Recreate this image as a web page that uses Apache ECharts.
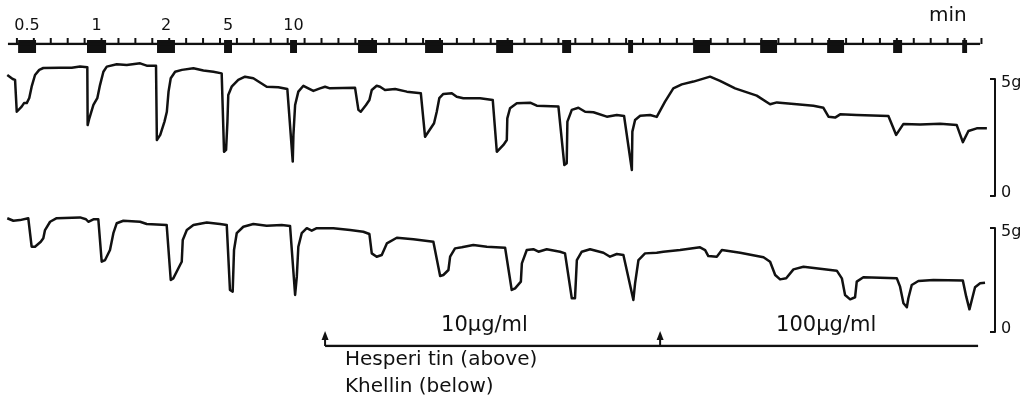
<!DOCTYPE html>
<html>
<head>
<meta charset="utf-8">
<title>Hesperitin / Khellin</title>
<script src="https://cdn.jsdelivr.net/npm/echarts@6/dist/echarts.min.js"></script>
<style>
html, body { margin: 0; padding: 0; background: #fff; }
#main { width: 1034px; height: 412px; }
</style>
</head>
<body>
<div id="main"></div>
<script>
// stimulation frequency written over the first five marks
var freqLabels = ['0.5', '1', '2', '5', '10'];
// stimulus marks on the time line (min)
var stimStart = [0.07, 4.14, 8.28, 12.24, 16.14, 20.16, 24.12, 28.32, 32.22, 36.12, 39.96, 43.92, 47.88, 51.78, 55.86];
var stimEnd   = [1.13, 5.27, 9.34, 12.71, 16.55, 21.28, 25.18, 29.32, 32.75, 36.41, 40.96, 44.92, 48.88, 52.31, 56.15];
// minute ticks of the time line
var minuteTicks = [0, 1, 2, 3, 4, 5, 6, 7, 8, 9, 10, 11, 12, 13, 14, 15, 16, 17, 18, 19,
  20, 21, 22, 23, 24, 25, 26, 27, 28, 29, 30, 31, 32, 33, 34, 35, 36, 37, 38, 39,
  40, 41, 42, 43, 44, 45, 46, 47, 48, 49, 50, 51, 52, 53, 54, 55, 56, 57];
var timeLine = [-0.53, 56.92];
// drug added (min), end of the bar, concentrations
var drugAdded = [18.21, 38.01];
var drugEnd = 56.8;
var drugConc = ['10µg/ml', '100µg/ml'];
var drugNames = ['Hesperi tin (above)', 'Khellin (below)'];
// tension scale (g)
var scaleMax = 5;

// upper trace: [min, g]
var hesperitin = [[-0.57,5.17],[-0.25,5.00],[-0.11,4.96],[-0.01,3.60],[0.08,3.55],[0.28,3.82],[0.42,3.97],[0.58,3.97],[0.73,4.19],[0.87,4.67],[1.07,5.17],[1.32,5.39],[1.56,5.47],[2.55,5.48],[3.24,5.48],[3.73,5.53],[4.16,5.50],
  [4.18,3.03],[4.28,3.32],[4.52,3.89],[4.75,4.18],[4.91,4.74],[5.11,5.31],[5.31,5.53],[5.90,5.63],[6.49,5.60],[7.28,5.67],[7.67,5.57],[8.22,5.57],
  [8.27,2.39],[8.47,2.61],[8.72,3.18],[8.86,3.60],[8.96,4.46],[9.09,5.03],[9.35,5.31],[9.75,5.39],[10.43,5.46],[11.02,5.36],[11.61,5.31],[12.10,5.24],
  [12.24,1.89],[12.36,1.97],[12.44,3.18],[12.49,4.32],[12.69,4.67],[13.08,4.96],[13.48,5.10],[13.97,5.03],[14.76,4.67],[15.45,4.65],[15.98,4.57],
  [16.30,1.47],[16.34,2.61],[16.44,3.89],[16.63,4.46],[16.93,4.71],[17.22,4.60],[17.52,4.49],[17.91,4.60],[18.21,4.67],[18.50,4.60],[19.98,4.63],
  [20.18,3.68],[20.32,3.60],[20.63,3.89],[20.83,4.10],[20.97,4.53],[21.26,4.71],[21.46,4.67],[21.75,4.53],[22.35,4.57],[23.04,4.46],[23.87,4.39],
  [24.12,2.53],[24.22,2.61],[24.65,3.11],[24.81,3.60],[24.96,4.18],[25.20,4.36],[25.70,4.39],[25.99,4.24],[26.38,4.18],[27.37,4.18],[28.12,4.10],
  [28.36,1.89],[28.45,1.89],[28.75,2.18],[28.95,2.39],[28.98,3.32],[29.14,3.75],[29.54,3.96],[30.33,3.99],[30.72,3.86],[32.00,3.82],
  [32.35,1.32],[32.49,1.40],[32.53,3.18],[32.79,3.68],[33.18,3.77],[33.58,3.60],[34.07,3.58],[34.86,3.39],[35.45,3.46],[35.88,3.42],
  [36.34,1.11],[36.37,2.75],[36.53,3.25],[36.83,3.43],[37.42,3.46],[37.81,3.38],[38.30,4.03],[38.79,4.60],[39.29,4.77],[39.98,4.89],[40.96,5.10],
  [41.55,4.92],[42.44,4.60],[43.72,4.29],[44.51,3.92],[44.91,4.00],[46.09,3.92],[47.07,3.86],[47.66,3.77],[47.96,3.39],[48.35,3.35],[48.65,3.49],
  [49.63,3.46],[51.50,3.42],[51.96,2.61],[52.39,3.08],[53.37,3.06],[54.56,3.09],[55.54,3.03],[55.90,2.30],[56.23,2.78],[56.72,2.89],[57.32,2.89]];

// lower trace: [min, g]
var khellin = [[-0.57,5.47],[-0.21,5.35],[0.18,5.38],[0.67,5.47],[0.87,4.10],[1.07,4.10],[1.41,4.34],[1.56,4.51],[1.66,4.90],[1.96,5.30],[2.35,5.47],[3.73,5.51],[4.08,5.42],[4.22,5.30],[4.52,5.42],[4.81,5.42],
  [5.01,3.38],[5.21,3.46],[5.50,3.94],[5.70,4.75],[5.90,5.23],[6.29,5.35],[7.28,5.30],[7.67,5.19],[8.85,5.14],
  [9.09,2.50],[9.24,2.58],[9.64,3.22],[9.74,3.38],[9.80,4.42],[10.04,4.90],[10.43,5.14],[11.22,5.26],[12.00,5.19],[12.40,5.14],
  [12.59,2.02],[12.75,1.94],[12.83,3.94],[12.99,4.75],[13.38,5.06],[13.97,5.19],[14.76,5.11],[15.65,5.14],[16.14,5.10],
  [16.44,1.78],[16.54,2.66],[16.63,4.10],[16.83,4.75],[17.13,4.99],[17.42,4.87],[17.72,4.99],[18.70,4.99],[19.69,4.90],[20.47,4.82],[20.83,4.71],
  [20.97,3.78],[21.26,3.62],[21.56,3.70],[21.86,4.26],[22.45,4.53],[23.43,4.46],[24.61,4.34],
  [25.01,2.69],[25.20,2.74],[25.50,2.98],[25.60,3.62],[25.89,4.02],[26.29,4.07],[26.97,4.18],[27.77,4.10],[28.85,4.05],
  [29.24,2.02],[29.44,2.10],[29.78,2.42],[29.84,3.30],[30.13,3.94],[30.52,3.98],[30.82,3.86],[31.31,3.98],[32.10,3.86],[32.39,3.78],
  [32.79,1.62],[32.98,1.62],[33.09,3.46],[33.38,3.86],[33.87,3.98],[34.66,3.81],[35.05,3.62],[35.45,3.75],[35.84,3.70],
  [36.43,1.54],[36.53,2.34],[36.73,3.46],[37.12,3.78],[37.81,3.81],[38.20,3.86],[39.19,3.94],[40.37,4.07],[40.67,3.94],[40.86,3.65],[41.36,3.62],[41.66,3.94],[42.74,3.81],
  [44.12,3.59],[44.51,3.38],[44.81,2.74],[45.10,2.53],[45.46,2.58],[45.89,3.01],[46.48,3.14],[48.45,2.95],
  [48.75,2.58],[48.94,1.78],[49.24,1.57],[49.53,1.67],[49.63,2.42],[50.02,2.63],[52.00,2.58],
  [52.19,2.18],[52.39,1.38],[52.59,1.19],[52.68,1.62],[52.88,2.26],[53.27,2.45],[54.16,2.50],[55.90,2.47],
  [56.10,1.70],[56.29,1.09],[56.43,1.54],[56.62,2.15],[56.92,2.34],[57.21,2.37]];

var FONT = '"DejaVu Sans", sans-serif';
var INK = '#111';

var myChart = echarts.init(document.getElementById('main'));

function timeAxis(i) {
  return { type: 'value', gridIndex: i, min: -1, max: 57.8, show: false };
}
function hiddenY(i) {
  return { type: 'value', gridIndex: i, min: 0, max: 1, show: false };
}
function scaleAxis(i) {
  return {
    type: 'value', gridIndex: i, min: 0, max: scaleMax, interval: scaleMax,
    position: 'right',
    axisLine: { show: true, onZero: false, lineStyle: { color: INK, width: 2 } },
    axisTick: { show: true, inside: true, length: 5, lineStyle: { color: INK, width: 2 } },
    splitLine: { show: false },
    axisLabel: {
      margin: 6,
      formatter: function (v) { return v === scaleMax ? '{t|' + v + 'g}' : '{b|' + v + '}'; },
      rich: {
        t: { fontFamily: FONT, fontSize: 16, color: INK, padding: [8, 0, 0, 0] },
        b: { fontFamily: FONT, fontSize: 16, color: INK, padding: [0, 0, 6, 0] }
      }
    }
  };
}

var options = {
  backgroundColor: '#fff',
  animation: false,
  grid: [
    { left: 0, right: 39, top: 30, height: 14 },   // time line
    { left: 0, right: 39, top: 79, height: 117 },  // hesperitin
    { left: 0, right: 39, top: 228, height: 104 }, // khellin
    { left: 0, right: 39, top: 300, height: 46 }   // drug bar
  ],
  xAxis: [timeAxis(0), timeAxis(1), timeAxis(2), timeAxis(3)],
  yAxis: [hiddenY(0), scaleAxis(1), scaleAxis(2), hiddenY(3)],
  graphic: [
    { type: 'text', x: 929, y: 16, style: { text: 'min', font: '20px ' + FONT, fill: INK, textVerticalAlign: 'middle' } },
    { type: 'text', x: 345, y: 360, style: { text: drugNames[0], font: '20px ' + FONT, fill: INK, textVerticalAlign: 'middle' } },
    { type: 'text', x: 345, y: 387, style: { text: drugNames[1], font: '20px ' + FONT, fill: INK, textVerticalAlign: 'middle' } }
  ],
  series: [
    {
      type: 'line', xAxisIndex: 0, yAxisIndex: 0, symbol: 'none', silent: true,
      data: [[timeLine[0], 0], [timeLine[1], 0]],
      lineStyle: { color: INK, width: 2.5 }
    },
    {
      // minute ticks
      type: 'custom', xAxisIndex: 0, yAxisIndex: 0, silent: true,
      data: minuteTicks.map(function (m) { return [m, 0]; }),
      renderItem: function (params, api) {
        var p = api.coord([api.value(0), 0]);
        return { type: 'line', shape: { x1: p[0], y1: p[1], x2: p[0], y2: p[1] - 6 }, style: { stroke: INK, lineWidth: 2 } };
      }
    },
    {
      // stimulus marks
      type: 'custom', xAxisIndex: 0, yAxisIndex: 0, silent: true,
      data: stimStart.map(function (s, i) { return [s, stimEnd[i]]; }),
      encode: { x: [0, 1] },
      renderItem: function (params, api) {
        var a = api.coord([api.value(0), 0]);
        var b = api.coord([api.value(1), 0]);
        var kids = [{ type: 'rect', shape: { x: a[0], y: a[1] - 4, width: b[0] - a[0], height: 13 }, style: { fill: INK } }];
        if (params.dataIndex < freqLabels.length) {
          kids.push({ type: 'text', x: (a[0] + b[0]) / 2, y: a[1] - 18,
            style: { text: freqLabels[params.dataIndex], font: '16px ' + FONT, fill: INK, align: 'center', verticalAlign: 'middle' } });
        }
        return { type: 'group', children: kids };
      }
    },
    {
      name: 'Hesperitin', type: 'line', xAxisIndex: 1, yAxisIndex: 1, symbol: 'none', clip: false, silent: true,
      data: hesperitin, lineStyle: { color: INK, width: 2.5, join: 'round' }
    },
    {
      name: 'Khellin', type: 'line', xAxisIndex: 2, yAxisIndex: 2, symbol: 'none', clip: false, silent: true,
      data: khellin, lineStyle: { color: INK, width: 2.5, join: 'round' }
    },
    {
      type: 'line', xAxisIndex: 3, yAxisIndex: 3, symbol: 'none', silent: true,
      data: [[drugAdded[0], 0], [drugEnd, 0]],
      lineStyle: { color: INK, width: 2.5 }
    },
    {
      // arrows where the drug was added, with the concentration
      type: 'custom', xAxisIndex: 3, yAxisIndex: 3, silent: true,
      data: drugAdded.map(function (t) { return [t, 0]; }),
      renderItem: function (params, api) {
        var p = api.coord([api.value(0), 0]);
        return { type: 'group', children: [
          { type: 'line', shape: { x1: p[0], y1: p[1], x2: p[0], y2: p[1] - 8 }, style: { stroke: INK, lineWidth: 2 } },
          { type: 'polygon', shape: { points: [[p[0], p[1] - 15], [p[0] - 3.5, p[1] - 6], [p[0] + 3.5, p[1] - 6]] }, style: { fill: INK } },
          { type: 'text', x: p[0] + 116, y: p[1] - 20,
            style: { text: drugConc[params.dataIndex], font: '21px ' + FONT, fill: INK, align: 'left', verticalAlign: 'middle' } }
        ] };
      }
    }
  ]
};
myChart.setOption(options);
</script>
</body>
</html>
